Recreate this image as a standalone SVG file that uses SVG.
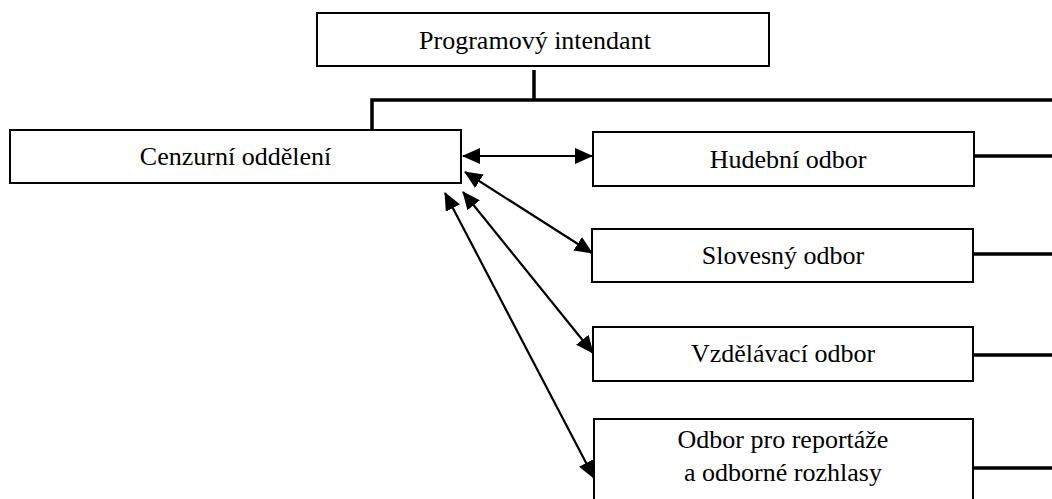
<svg xmlns="http://www.w3.org/2000/svg" width="1052" height="499" viewBox="0 0 1052 499">
<style>
.box{fill:#fff;stroke:#000;stroke-width:2}
.t{font-family:"Liberation Serif","Times New Roman",serif;font-size:26px;fill:#000;text-anchor:middle}
.h{fill:none;stroke:#000;stroke-width:3.5}
.a{fill:none;stroke:#000;stroke-width:2.2;marker-start:url(#ah);marker-end:url(#ah)}
</style>
<defs>
<marker id="ah" markerUnits="userSpaceOnUse" markerWidth="18" markerHeight="16" refX="17" refY="8" orient="auto-start-reverse" viewBox="0 0 18 16">
<path d="M0,0 L18,8 L0,16 z" fill="#000"/>
</marker>
</defs>
<g id="connectors">
<polyline class="h" points="534,70 534,100"/>
<polyline class="h" points="372,130 372,100 1052,100"/>
<line class="h" x1="974" y1="156" x2="1052" y2="156"/>
<line class="h" x1="973" y1="254" x2="1052" y2="254"/>
<line class="h" x1="973" y1="355" x2="1052" y2="355"/>
<line class="h" x1="973" y1="468" x2="1052" y2="468"/>
<line class="a" x1="463" y1="156" x2="592" y2="156"/>
<line class="a" x1="465" y1="172" x2="592" y2="253"/>
<line class="a" x1="463" y1="192" x2="593" y2="353"/>
<line class="a" x1="445" y1="193" x2="594" y2="478"/>
</g>
<g id="programovy-intendant">
<rect class="box" x="317" y="13" width="452" height="53"/>
<text class="t" x="535" y="49">Programový intendant</text>
</g>
<g id="cenzurni-oddeleni">
<rect class="box" x="10" y="130" width="451" height="53"/>
<text class="t" x="235.5" y="165">Cenzurní oddělení</text>
</g>
<g id="hudebni-odbor">
<rect class="box" x="593" y="132" width="381" height="54"/>
<text class="t" x="788" y="168">Hudební odbor</text>
</g>
<g id="slovesny-odbor">
<rect class="box" x="592" y="229" width="381" height="53"/>
<text class="t" x="783" y="264">Slovesný odbor</text>
</g>
<g id="vzdelavaci-odbor">
<rect class="box" x="593" y="327" width="380" height="54"/>
<text class="t" x="783" y="362">Vzdělávací odbor</text>
</g>
<g id="odbor-reportaze">
<rect class="box" x="594" y="419" width="379" height="100"/>
<text class="t" x="783" y="448">Odbor pro reportáže</text>
<text class="t" x="783" y="481">a odborné rozhlasy</text>
</g>
</svg>
